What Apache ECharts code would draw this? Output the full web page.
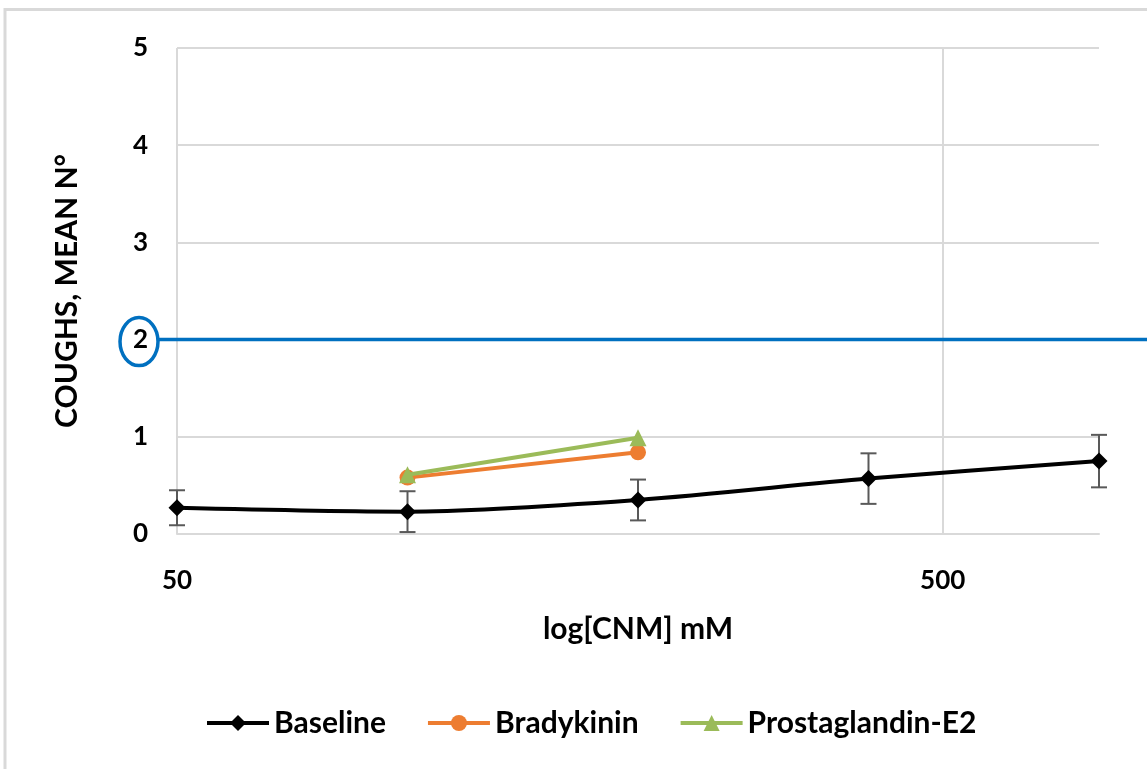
<!DOCTYPE html>
<html>
<head>
<meta charset="utf-8">
<script src="https://cdn.jsdelivr.net/npm/echarts@6/dist/echarts.min.js"></script>
<style>
  html, body { margin: 0; padding: 0; background: #fff; }
  #chart { width: 1147px; height: 769px; }
</style>
</head>
<body>
<div id="chart"></div>
<script>
// Dose response: mean cough count per inhaled concentration (mM)
const concentrations = [50, 100, 200, 400, 800];
const baselineMean = [0.27, 0.23, 0.35, 0.57, 0.75];
const baselineErr = [0.18, 0.21, 0.21, 0.26, 0.27];
const agentConcentrations = [100, 200];
const bradykinin = [0.58, 0.84];
const prostaglandinE2 = [0.61, 0.99];
const thresholdCoughs = 2;
const xBase = 50;          // first major tick of the log axis
const xMax = 800;          // right end of the log axis
const yTicks = [0, 1, 2, 3, 4, 5];

const FONT = 'Lato, "Open Sans", sans-serif';
// position on a base-10 log axis that starts at xBase
const lg = v => Math.log10(v / xBase);

const baselineData = concentrations.map((c, i) => [lg(c), baselineMean[i]]);
const errData = concentrations.map((c, i) => [lg(c), baselineMean[i] - baselineErr[i], baselineMean[i] + baselineErr[i]]);
const bradyData = agentConcentrations.map((c, i) => [lg(c), bradykinin[i]]);
const pgeData = agentConcentrations.map((c, i) => [lg(c), prostaglandinE2[i]]);

const chart = echarts.init(document.getElementById('chart'), null, { renderer: 'canvas' });

const titleStyle = { fontFamily: FONT, fontWeight: 'bold', fontSize: 30, color: '#000' };

const option = {
  backgroundColor: '#fff',
  animation: false,
  grid: { left: 177, right: 48, top: 48, bottom: 235 },
  xAxis: {
    type: 'value',
    min: 0,
    max: lg(xMax),
    interval: 1,
    name: 'log[CNM] mM',
    nameLocation: 'middle',
    nameGap: 80,
    nameTextStyle: titleStyle,
    axisLine: { show: true, lineStyle: { color: '#d9d9d9', width: 2 } },
    axisTick: { show: false },
    axisLabel: {
      showMaxLabel: false,
      margin: 34,
      fontFamily: FONT, fontWeight: 'bold', fontSize: 26, color: '#000',
      formatter: v => String(Math.round(xBase * Math.pow(10, v)))
    },
    splitLine: { show: true, showMaxLine: false, lineStyle: { color: '#d9d9d9', width: 2 } }
  },
  yAxis: {
    type: 'value',
    min: yTicks[0],
    max: yTicks[yTicks.length - 1],
    interval: 1,
    name: 'COUGHS, MEAN N°',
    nameLocation: 'middle',
    nameRotate: 90,
    nameGap: 95,
    nameTextStyle: titleStyle,
    axisLine: { show: false },
    axisTick: { show: false },
    axisLabel: { margin: 29, fontFamily: FONT, fontWeight: 'bold', fontSize: 26, color: '#000' },
    splitLine: { show: true, lineStyle: { color: '#d9d9d9', width: 2 } }
  },
  legend: {
    bottom: 26,
    left: 200,
    itemWidth: 62,
    itemHeight: 20,
    itemGap: 40,
    lineStyle: { width: 4 },
    textStyle: titleStyle,
    data: ['Baseline', 'Bradykinin', 'Prostaglandin-E2']
  },
  series: [
    {
      name: 'Baseline error',
      type: 'custom',
      z: 3,
      data: errData,
      renderItem: (params, api) => {
        const x = api.value(0);
        const lo = api.coord([x, api.value(1)]);
        const hi = api.coord([x, api.value(2)]);
        const cap = 8;
        const style = { stroke: '#595959', lineWidth: 2 };
        return {
          type: 'group',
          children: [
            { type: 'line', shape: { x1: lo[0], y1: lo[1], x2: hi[0], y2: hi[1] }, style },
            { type: 'line', shape: { x1: hi[0] - cap, y1: hi[1], x2: hi[0] + cap, y2: hi[1] }, style },
            { type: 'line', shape: { x1: lo[0] - cap, y1: lo[1], x2: lo[0] + cap, y2: lo[1] }, style }
          ]
        };
      },
      clip: false
    },
    {
      name: 'Baseline',
      type: 'line',
      z: 4,
      data: baselineData,
      smooth: 0.3,
      symbol: 'diamond',
      symbolSize: 17,
      color: '#000',
      lineStyle: { color: '#000', width: 4 },
      itemStyle: { color: '#000' }
    },
    {
      name: 'Bradykinin',
      type: 'line',
      z: 5,
      data: bradyData,
      symbol: 'circle',
      symbolSize: 16,
      color: '#ED7D31',
      lineStyle: { color: '#ED7D31', width: 4 },
      itemStyle: { color: '#ED7D31' }
    },
    {
      name: 'Prostaglandin-E2',
      type: 'line',
      z: 6,
      data: pgeData,
      symbol: 'triangle',
      symbolSize: 17,
      color: '#9BBB59',
      lineStyle: { color: '#9BBB59', width: 4 },
      itemStyle: { color: '#9BBB59' }
    }
  ]
};

chart.setOption(option);

// Threshold line at 2 coughs with the highlighted tick label
const ty = chart.convertToPixel({ yAxisIndex: 0 }, thresholdCoughs);
chart.setOption({
  graphic: [
    {
      type: 'rect',
      silent: true,
      shape: { x: 5, y: 9.5, width: 1200, height: 800 },
      style: { fill: null, stroke: '#d9d9d9', lineWidth: 3 },
      z: -1
    },
    {
      type: 'line',
      silent: true,
      shape: { x1: 158, y1: ty, x2: 1147, y2: ty },
      style: { stroke: '#0070C0', lineWidth: 3.5 },
      z: 10
    },
    {
      type: 'ellipse',
      silent: true,
      shape: { cx: 139, cy: ty + 2, rx: 19, ry: 24 },
      style: { fill: null, stroke: '#0070C0', lineWidth: 3.5 },
      z: 10
    }
  ]
});
</script>
</body>
</html>
